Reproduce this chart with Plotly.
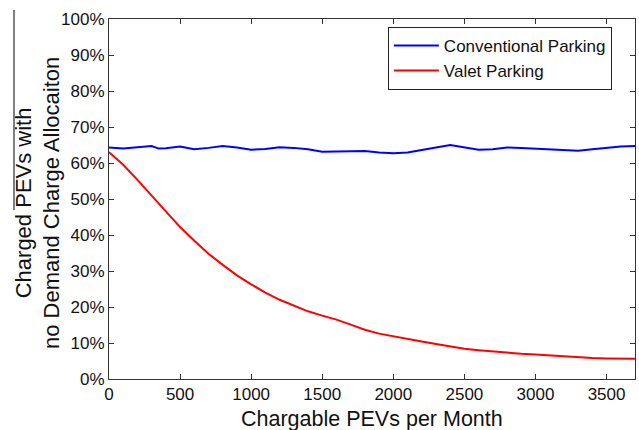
import plotly.graph_objects as go

# Chargable PEVs per month (x) and share of charged PEVs (%)
pevs = [0, 100, 200, 300, 350, 400, 500, 600, 700, 800, 900, 1000, 1100, 1200,
        1300, 1400, 1500, 1600, 1700, 1800, 1900, 2000, 2100, 2200, 2300,
        2400, 2500, 2600, 2700, 2800, 2900, 3000, 3100, 3200, 3300, 3400,
        3500, 3600, 3700]
conventional = [64.3, 64.0, 64.4, 64.7, 64.0, 64.1, 64.6, 63.8, 64.2, 64.7,
                64.3, 63.7, 63.9, 64.4, 64.2, 63.8, 63.1, 63.2, 63.3, 63.3,
                62.9, 62.7, 62.9, 63.5, 64.3, 65.0, 64.4, 63.7, 63.8, 64.3,
                64.2, 64.0, 63.7, 63.4, 63.4, 63.8, 64.2, 64.6, 64.7]
valet = [63.0, 59.5, 55.3, 51.0, 48.8, 46.5, 42.2, 38.4, 34.8, 31.7, 28.8,
         26.3, 24.0, 22.0, 20.3, 18.8, 17.6, 16.5, 15.1, 13.7, 12.6, 11.8,
         11.0, 10.4, 9.7, 9.0, 8.4, 8.0, 7.6, 7.3, 7.0, 6.8, 6.5, 6.3, 6.1,
         5.8, 5.7, 5.6, 5.6]

y_ticks = list(range(0, 101, 10))
y_labels = [f"{v}%" for v in y_ticks]
x_ticks = [0, 500, 1000, 1500, 2000, 2500, 3000, 3500]

FONT = "Liberation Sans, Arial, sans-serif"

fig = go.Figure()
fig.add_trace(go.Scatter(x=pevs, y=conventional, mode="lines",
                         name="Conventional Parking",
                         line=dict(color="#0000FF", width=2)))
fig.add_trace(go.Scatter(x=pevs, y=valet, mode="lines",
                         name="Valet Parking",
                         line=dict(color="#FF0000", width=2)))

axis_style = dict(showline=True, linecolor="#333333", linewidth=1,
                  mirror="ticks", ticks="inside", ticklen=5,
                  tickcolor="#333333", showgrid=False, zeroline=False,
                  tickfont=dict(family=FONT, size=17, color="#111111"))

fig.update_xaxes(range=[0, 3700], tickvals=x_ticks, **axis_style)
fig.update_yaxes(range=[0, 100], tickvals=y_ticks, ticktext=y_labels,
                 **axis_style)

fig.add_annotation(text="Chargable PEVs per Month", xref="paper",
                   yref="paper", x=0.5, y=-0.111, showarrow=False,
                   xanchor="center", yanchor="middle",
                   font=dict(family=FONT, size=21.5, color="#111111"))
fig.add_annotation(text="Charged PEVs with<br>no Demand Charge Allocaiton",
                   xref="paper", yref="paper", x=-0.136, y=0.49,
                   showarrow=False, textangle=-90, xanchor="center",
                   yanchor="middle",
                   font=dict(family=FONT, size=22, color="#111111"))
# thin crop line at the left edge of the original figure
fig.add_shape(type="line", xref="paper", yref="paper", x0=-0.1806,
              x1=-0.1806, y0=0.469, y1=1.025,
              line=dict(color="black", width=1))

fig.update_layout(
    width=639, height=430,
    margin=dict(l=109, r=4, t=19, b=51),
    plot_bgcolor="white", paper_bgcolor="white",
    showlegend=True,
    legend=dict(x=0.956, y=0.978, xanchor="right", yanchor="top",
                bordercolor="#222222", borderwidth=1, bgcolor="white",
                font=dict(family=FONT, size=17, color="#111111"),
                tracegroupgap=0, itemwidth=45),
)

fig.write_html("out.html", config={"displayModeBar": False},
               post_script="document.body.style.margin='0';"
                           "document.body.style.overflow='hidden';")
